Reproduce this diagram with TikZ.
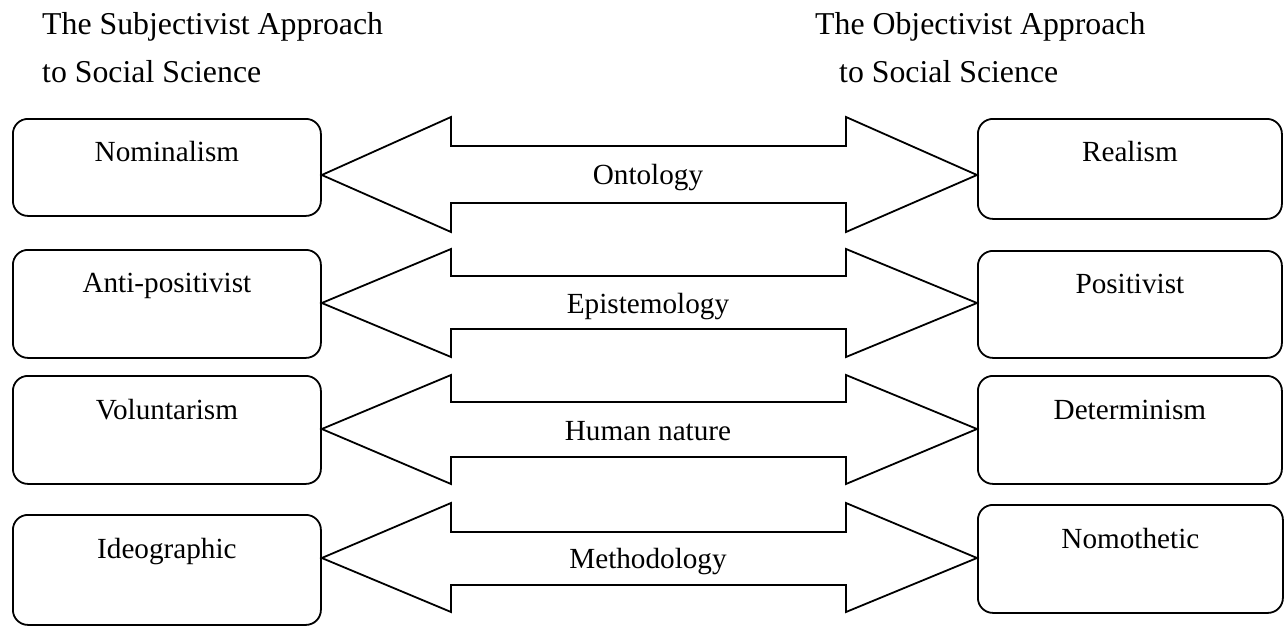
\documentclass[tikz,border=0pt]{standalone}
\usepackage{fontspec}
\setmainfont{Liberation Serif}
\begin{document}
\begin{tikzpicture}[x=1pt,y=-1pt,
  lbox/.style={draw,line width=1.8pt,rounded corners=15pt,anchor=north west,inner sep=0pt,minimum width=308pt},
  rbox/.style={draw,line width=1.8pt,rounded corners=15pt,anchor=north west,inner sep=0pt,minimum width=304pt},
  boxtxt/.style={font=\fontsize{29.2}{34}\selectfont,inner sep=0pt,anchor=base},
  midtxt/.style={font=\fontsize{29.2}{34}\selectfont,inner sep=0pt,anchor=base},
  ttl/.style={font=\fontsize{31.8}{36}\selectfont,inner sep=0pt,anchor=base west},
  darrow/.style={draw,line width=1.8pt,line join=miter}]
\useasboundingbox (0,0) rectangle (1288,626);

% titles
\node[ttl] (tl1) at (42,35) {The Subjectivist Approach};
\node[ttl] (tl2) at (42,83) {to Social Science};
\node[ttl] (tr1) at (815,35) {The Objectivist Approach};
\node[ttl] (tr2) at (839,83) {to Social Science};

% left boxes
\node[lbox,minimum height=97pt] (L1) at (12,118) {};
\node[lbox,minimum height=108pt] (L2) at (12,249) {};
\node[lbox,minimum height=108pt] (L3) at (12,375) {};
\node[lbox,minimum height=110pt] (L4) at (12,514) {};
% right boxes
\node[rbox,minimum height=100pt] (R1) at (977,118) {};
\node[rbox,minimum height=107pt] (R2) at (977,250) {};
\node[rbox,minimum height=108pt] (R3) at (977,375) {};
\node[rbox,minimum height=108pt,minimum width=305pt] (R4) at (977,504) {};

% box texts
\node[boxtxt] (tL1) at ([yshift=-43.5pt]L1.north) {Nominalism};
\node[boxtxt] (tL2) at ([yshift=-43.5pt]L2.north) {Anti-positivist};
\node[boxtxt] (tL3) at ([yshift=-44pt]L3.north) {Voluntarism};
\node[boxtxt] (tL4) at ([yshift=-44pt]L4.north) {Ideographic};
\node[boxtxt] (tR1) at ([yshift=-43pt]R1.north) {Realism};
\node[boxtxt] (tR2) at ([yshift=-43pt]R2.north) {Positivist};
\node[boxtxt] (tR3) at ([yshift=-44pt]R3.north) {Determinism};
\node[boxtxt] (tR4) at ([yshift=-44pt]R4.north) {Nomothetic};

% double arrows
\draw[darrow] (L1.east |- 0,175) -- (451,117) -- (451,146) -- (846,146) -- (846,117)
  -- (R1.west |- 0,175) -- (846,232) -- (846,203) -- (451,203) -- (451,232) -- cycle;
\draw[darrow] (L2.east |- 0,303) -- (451,249) -- (451,276) -- (846,276) -- (846,249)
  -- (R2.west |- 0,303) -- (846,357) -- (846,329) -- (451,329) -- (451,357) -- cycle;
\draw[darrow] (L3.east |- 0,429) -- (451,375) -- (451,402) -- (846,402) -- (846,375)
  -- (R3.west |- 0,429) -- (846,484) -- (846,457) -- (451,457) -- (451,484) -- cycle;
\draw[darrow] (L4.east |- 0,558) -- (451,503) -- (451,532) -- (846,532) -- (846,503)
  -- (R4.west |- 0,558) -- (846,612) -- (846,585) -- (451,585) -- (451,612) -- cycle;

% middle labels
\node[midtxt] (m1) at (648,184) {Ontology};
\node[midtxt] (m2) at (648,313) {Epistemology};
\node[midtxt] (m3) at (648,440) {Human nature};
\node[midtxt] (m4) at (648,568) {Methodology};
\end{tikzpicture}
\end{document}
